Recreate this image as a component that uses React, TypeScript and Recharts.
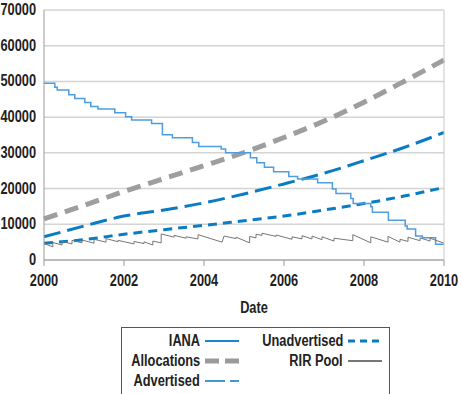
import React from 'react'
import { LineChart, Line, XAxis, YAxis, CartesianGrid, Label } from 'recharts'

// yearly trend lines
const trendYears = [2000, 2001, 2002, 2003, 2004, 2005, 2006, 2007, 2008, 2009, 2010]
const allocations = [11500, 15300, 19200, 22800, 26400, 30100, 34300, 38900, 44200, 50000, 56000]
const advertised = [6500, 9500, 12300, 14000, 16000, 18500, 21300, 24300, 27800, 31500, 35700]
const unadvertised = [4700, 5700, 7200, 8500, 9700, 11000, 12300, 14000, 15800, 17900, 20300]

// IANA free pool (step changes)
const ianaYears = [
  2000.0, 2000.27, 2000.33, 2000.62, 2000.77, 2001.02, 2001.17, 2001.35, 2001.77, 2002.04,
  2002.19, 2002.69, 2002.96, 2003.21, 2003.71, 2003.87, 2004.43, 2004.54, 2005.16, 2005.32,
  2005.51, 2005.74, 2006.12, 2006.34, 2006.84, 2007.21, 2007.3, 2007.67, 2007.73, 2008.17,
  2008.21, 2008.61, 2009.03, 2009.08, 2009.29, 2009.46, 2009.79, 2010.0,
]
const ianaPool = [
  49500, 48400, 47600, 46300, 45200, 44100, 43000, 42300, 41200, 40100,
  39200, 38200, 35100, 34200, 32900, 31800, 31100, 30000, 28600, 27200,
  26000, 24700, 23400, 22700, 21600, 19900, 18600, 17200, 15800, 14900,
  13400, 11100, 9500, 8700, 6700, 6200, 4400, 4400,
]

// RIR pool sawtooth
const rirYears = [
  2000.0, 2000.22, 2000.22, 2000.45, 2000.45, 2000.7, 2000.7, 2000.95, 2000.95, 2001.25,
  2001.25, 2001.55, 2001.55, 2001.85, 2001.85, 2002.25, 2002.25, 2002.5, 2002.5, 2002.72,
  2002.72, 2002.93, 2002.93, 2003.25, 2003.25, 2003.55, 2003.55, 2003.85, 2003.85, 2004.45,
  2004.5, 2004.8, 2004.8, 2005.14, 2005.14, 2005.3, 2005.3, 2005.45, 2005.45, 2005.8,
  2005.8, 2006.2, 2006.2, 2006.45, 2006.45, 2006.7, 2006.7, 2006.95, 2006.95, 2007.25,
  2007.25, 2007.72, 2007.72, 2008.17, 2008.17, 2008.6, 2008.6, 2008.9, 2008.9, 2009.1,
  2009.1, 2009.4, 2009.4, 2009.65, 2009.65, 2010.0,
]
const rirPool = [
  4600, 3700, 4900, 4200, 5200, 4500, 5500, 4800, 5600, 4700,
  5800, 5000, 6000, 5100, 5500, 4500, 5200, 4600, 5100, 4200,
  5300, 4800, 7300, 6400, 6900, 6100, 6500, 5900, 7100, 5000,
  6700, 6000, 6400, 4800, 6600, 6200, 7200, 6900, 7500, 6600,
  7000, 5800, 6500, 5900, 6800, 5900, 6700, 5700, 6500, 5300,
  6100, 5400, 7100, 4800, 6500, 5000, 6600, 5000, 5800, 5200,
  6400, 5400, 6200, 5300, 6100, 4700,
]

const xTicks = [2000, 2002, 2004, 2006, 2008, 2010]
const yTicks = [0, 10000, 20000, 30000, 40000, 50000, 60000, 70000]

const legendLeft = [
  { name: 'IANA', color: '#1a86cc', width: 2, dash: '' },
  { name: 'Allocations', color: '#9a9a9a', width: 5, dash: '14 6' },
  { name: 'Advertised', color: '#3f99d8', width: 2, dash: '20 5 8 0' },
]
const legendRight = [
  { name: 'Unadvertised', color: '#0a7cc4', width: 3, dash: '7 5' },
  { name: 'RIR Pool', color: '#777777', width: 2, dash: '' },
]

const font = '"Liberation Sans", Arial, sans-serif'
const squeeze = 0.8

const toPoints = (xs: number[], ys: number[]) => xs.map((x, i) => ({ x, y: ys[i] }))

// condensed bold tick text (no narrow font installed)
function NarrowTick(props: any) {
  const { x, y, payload, textAnchor } = props
  const isX = textAnchor === 'middle'
  return (
    <text transform={`translate(${x},${y}) scale(${squeeze},1)`} textAnchor={textAnchor}
      dy={isX ? 17 : 5} fill="#222" fontSize={16} fontWeight="bold" fontFamily={font}>
      {payload.value}
    </text>
  )
}

function NarrowLabel(props: any) {
  const { viewBox } = props
  const cx = viewBox.x + viewBox.width / 2 + 10
  const cy = viewBox.y + viewBox.height - 7
  return (
    <text transform={`translate(${cx},${cy}) scale(${squeeze},1)`} textAnchor="middle"
      fill="#222" fontSize={16} fontWeight="bold" fontFamily={font}>
      Date
    </text>
  )
}

function LegendItem({ item, textWidth }: { item: any; textWidth: number }) {
  return (
    <div style={{ display: 'flex', alignItems: 'center', height: 20 }}>
      <div style={{ width: textWidth, display: 'flex', justifyContent: 'flex-end', whiteSpace: 'nowrap' }}>
        <span style={{
          display: 'inline-block', fontWeight: 'bold', fontSize: 16, color: '#222', flexShrink: 0,
          transform: `scaleX(${squeeze})`, transformOrigin: 'right center',
        }}>
          {item.name}
        </span>
      </div>
      <svg width={36} height={10} style={{ marginLeft: 5 }}>
        <line x1={0} y1={5} x2={34} y2={5} stroke={item.color} strokeWidth={item.width}
          strokeDasharray={item.dash || undefined} />
      </svg>
    </div>
  )
}

export default function App() {
  return (
    <div style={{ position: 'absolute', left: 0, top: 0, width: 463, height: 394, background: '#fff', fontFamily: font }}>
      <LineChart width={463} height={320} margin={{ top: 10, right: 18, left: 0, bottom: 0 }}>
        <CartesianGrid horizontal vertical={false} stroke="#d4d4d4" strokeWidth={1.5} />
        <XAxis dataKey="x" type="number" domain={[2000, 2010]} ticks={xTicks} height={60}
          stroke="#999" tickSize={6} tickMargin={3} tick={<NarrowTick />}>
          <Label content={<NarrowLabel />} />
        </XAxis>
        <YAxis type="number" domain={[0, 70000]} ticks={yTicks} width={44} stroke="#999"
          tickLine={false} tickSize={0} tickMargin={8} tick={<NarrowTick />} />
        <YAxis yAxisId="r" orientation="right" width={1} stroke="#c8c8c8" tick={false} />
        <Line data={toPoints(trendYears, allocations)} dataKey="y" stroke="#9e9e9e" strokeWidth={5}
          strokeDasharray="14 8" dot={false} type="monotone" isAnimationActive={false} />
        <Line data={toPoints(trendYears, advertised)} dataKey="y" stroke="#0a7cc4" strokeWidth={3}
          strokeDasharray="17 7" dot={false} type="monotone" isAnimationActive={false} />
        <Line data={toPoints(trendYears, unadvertised)} dataKey="y" stroke="#0a7cc4" strokeWidth={3}
          strokeDasharray="9 6" dot={false} type="monotone" isAnimationActive={false} />
        <Line data={toPoints(ianaYears, ianaPool)} dataKey="y" stroke="#4d9de0" strokeWidth={1.5}
          dot={false} type="stepAfter" isAnimationActive={false} />
        <Line data={toPoints(rirYears, rirPool)} dataKey="y" stroke="#777" strokeWidth={1}
          dot={false} type="linear" isAnimationActive={false} />
      </LineChart>
      <div style={{
        position: 'absolute', left: 121, top: 327, width: 267, height: 64,
        border: '1px solid #555', display: 'flex', paddingTop: 3,
      }}>
        <div>
          {legendLeft.map((it) => <LegendItem key={it.name} item={it} textWidth={78} />)}
        </div>
        <div style={{ marginLeft: 22 }}>
          {legendRight.map((it) => <LegendItem key={it.name} item={it} textWidth={80} />)}
        </div>
      </div>
    </div>
  )
}
